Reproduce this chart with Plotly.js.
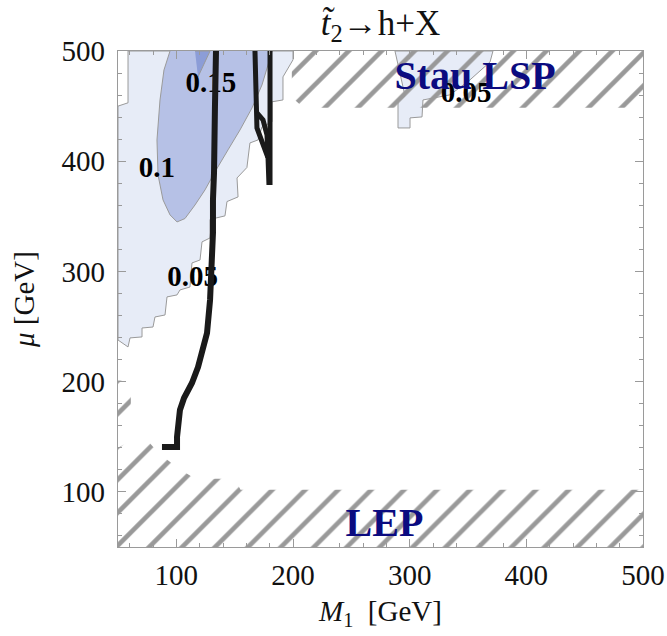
<!DOCTYPE html>
<html>
<head>
<meta charset="utf-8">
<script src="https://cdn.plot.ly/plotly-3.0.1.min.js"></script>
<style>html,body{margin:0;padding:0;background:#fff;}</style>
</head>
<body>
<div id="chart" style="width:667px;height:636px;"></div>
<script>
// ---- data (M1 [GeV], mu [GeV]) ----
// 0.05 contour region (main)
const light1X = [58.6,200,200,191.4,191.4,182,182,173.4,170,163.1,160.5,152,152.9,143.4,141.7,128.9,128.9,122,120.3,113.4,111.7,103.1,100.6,92,90.3,81.7,80,70.6,70.6,60.3,58.6,50,50,58.6,58.6];
const light1Y = [500,500,492,476.5,455.6,453.9,435.7,431.1,419.3,416.6,394.3,384.8,367.6,363.4,350.4,347.2,330.4,326.8,310.4,307.7,285.9,283.2,278.7,276.9,260.5,258.7,249.6,248.7,240.6,239.7,231.5,237.8,450,453,500];
// 0.05 contour region (under stau LSP)
const light2X = [287.4,371.4,368.9,351.7,334.6,320.0,311.4,310.6,300.3,300.3,290.0,290.0,296.0,287.4];
const light2Y = [500,500,490.1,473.8,460.2,457.4,455.6,440.2,439.3,430.2,430.2,453.9,459.3,500];
// 0.1 contour region
const midX = [94.6,89.4,86.0,83.4,84.3,88.6,94.6,100.6,107.4,116.0,124.6,133.1,144.3,154.6,164.9,173.4,178.6,182.0];
const midY = [500,482.8,455.6,419.3,387.6,364.9,351.3,344.9,348.0,360.3,374.0,390.3,410.3,428.4,448.4,469.2,487.4,500];
// 0.15 contour region
const darkX = [116.0,128.9,118.6];
const darkY = [500,500,476.5];
// thick black curve
const curveX = [87.7,100.6,100.6,101.4,103.1,106.6,113.4,118.6,122.9,126.3,128.9,130.6,131.4,131.4,132.3,133.1,134.0];
const curveY = [140.7,140.7,149.8,165.2,174.3,185.2,198.8,213.3,228.8,244.2,274.1,304.1,334.9,364.9,389.4,449.3,500];
// thick black loop near M1 ~ 170-180
const loopAX = [167.4,169.1,178.6,179.4];
const loopAY = [500,430.2,403.0,378.5];
const loopBX = [180.3,180.3];
const loopBY = [500,378.5];
const loopCX = [169.1,174.3,177.7,178.6];
const loopCY = [443.8,437.5,423.9,403.0];
// excluded regions
const lepX = [50,50,71,80,90,101,113,131,150,155,500,500];
const lepY = [50,140,152,141,131,122,114,112,112,102,102,50];
const lepIsleX = [50,50,61,61];
const lepIsleY = [165,201,201,165];
const stauX = [199,500,500,209,199];
const stauY = [500,500,448.5,448.5,458];
// contour labels
const cLabText = ['0.15','0.1','0.05','0.05'];
const cLabX = [129.7,83.4,114.0,348.3];
const cLabY = [469,392,293,460];
// region labels
const rLabText = ['Stau LSP','LEP'];
const rLabX = [356,278.4];
const rLabY = [474.7,69];

const SERIF = 'Liberation Serif, Times New Roman, serif';
const grey = '#9a9a9a';
const hatch = {shape:'/', fgcolor:'#999999', fgopacity:1, bgcolor:'rgba(0,0,0,0)', size:23.3, solidity:0.2, fillmode:'overlay'};

const traces = [
  {x:light1X, y:light1Y, mode:'lines', fill:'toself', fillcolor:'#e7ecf7', line:{color:grey,width:1}, hoverinfo:'skip'},
  {x:light2X, y:light2Y, mode:'lines', fill:'toself', fillcolor:'#e7ecf7', line:{color:grey,width:1}, hoverinfo:'skip'},
  {x:midX, y:midY, mode:'lines', fill:'toself', fillcolor:'#b6c1e6', line:{color:grey,width:1}, hoverinfo:'skip'},
  {x:darkX, y:darkY, mode:'lines', fill:'toself', fillcolor:'#8c9dd7', line:{color:grey,width:1}, hoverinfo:'skip'},
  {x:lepX, y:lepY, mode:'lines', fill:'toself', fillcolor:'rgba(0,0,0,0)', fillpattern:hatch, line:{width:0}, hoverinfo:'skip'},
  {x:lepIsleX, y:lepIsleY, mode:'lines', fill:'toself', fillcolor:'rgba(0,0,0,0)', fillpattern:hatch, line:{width:0}, hoverinfo:'skip'},
  {x:stauX, y:stauY, mode:'lines', fill:'toself', fillcolor:'rgba(0,0,0,0)', fillpattern:hatch, line:{width:0}, hoverinfo:'skip'},
  {x:cLabX, y:cLabY, text:cLabText, mode:'text', textposition:'middle center',
   textfont:{family:SERIF, size:29, color:'#000', weight:'bold'}, hoverinfo:'skip'},
  {x:curveX, y:curveY, mode:'lines', line:{color:'#1a1a1a', width:6}, hoverinfo:'skip'},
  {x:loopAX, y:loopAY, mode:'lines', line:{color:'#1a1a1a', width:5}, hoverinfo:'skip'},
  {x:loopBX, y:loopBY, mode:'lines', line:{color:'#1a1a1a', width:5}, hoverinfo:'skip'},
  {x:loopCX, y:loopCY, mode:'lines', line:{color:'#1a1a1a', width:5}, hoverinfo:'skip'},
  {x:rLabX, y:rLabY, text:rLabText, mode:'text', textposition:'middle center',
   textfont:{family:SERIF, size:40, color:'#0b0b80', weight:'bold'}, hoverinfo:'skip'}
];

const axisCommon = {
  showgrid:false, zeroline:false, showline:true, linecolor:grey, linewidth:1.2,
  mirror:'allticks', ticks:'inside', ticklen:8, tickcolor:grey, tickwidth:1,
  tickfont:{family:SERIF, size:29, color:'#111'},
  minor:{dtick:20, ticks:'inside', ticklen:4, tickcolor:grey, showgrid:false}
};

const layout = {
  width:667, height:636,
  margin:{l:118, r:24, t:51, b:89},
  paper_bgcolor:'#fff', plot_bgcolor:'#fff',
  showlegend:false,
  title:{text:'<i>t̃</i><sub>2</sub>→h+X', font:{family:SERIF, size:35, color:'#111'},
         xref:'paper', x:0.5, xanchor:'center', yref:'container', y:0.965, yanchor:'middle'},
  xaxis:Object.assign({}, axisCommon, {range:[50,500], tickvals:[100,200,300,400,500], ticktext:['100','200','300','400','500'],
         ticklabelstandoff:2,
         title:{text:'<i>M</i><sub>1</sub>  [GeV]', font:{family:SERIF, size:29, color:'#111'}, standoff:10}}),
  yaxis:Object.assign({}, axisCommon, {range:[50,500], tickvals:[100,200,300,400,500], ticktext:['100','200','300','400','500'],
         ticklabelstandoff:6,
         title:{text:'<i>μ</i> [GeV]', font:{family:SERIF, size:29, color:'#111'}, standoff:18}})
};

Plotly.newPlot('chart', traces, layout, {displayModeBar:false, staticPlot:true});
</script>
</body>
</html>
